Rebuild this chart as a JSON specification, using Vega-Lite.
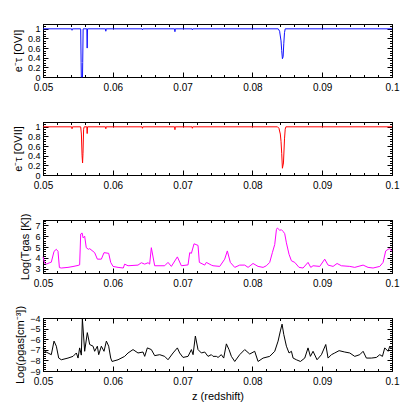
{
"$schema": "https://vega.github.io/schema/vega-lite/v6.json",
"padding": {"left": 12, "top": 23, "right": 5, "bottom": 5},
"background": "white",
"bounds": "flush",
"spacing": 45,
"config": {"view": {"stroke": null}, "axis": {"grid": false, "labelFont": "Liberation Sans", "titleFont": "Liberation Sans", "labelFontSize": 10, "titleFontSize": 11, "titleFontWeight": "normal", "labelColor": "black", "titleColor": "black", "domainColor": "black", "tickColor": "black", "domainWidth": 1, "tickWidth": 1, "labelFlush": false, "labelOverlap": false}, "axisY": {"labelFontSize": 9}},
"datasets": {
"ovi": [{"z":0.05,"v":1},{"z":0.0541,"v":1},{"z":0.05416,"v":0.97},{"z":0.05422,"v":1},{"z":0.0554,"v":1},{"z":0.05546,"v":0.3},{"z":0.05549,"v":0},{"z":0.05566,"v":0},{"z":0.05569,"v":0.3},{"z":0.05575,"v":1},{"z":0.05628,"v":1},{"z":0.05633,"v":0.6},{"z":0.05638,"v":1},{"z":0.05895,"v":1},{"z":0.059,"v":0.95},{"z":0.05905,"v":1},{"z":0.0642,"v":1},{"z":0.06425,"v":0.98},{"z":0.0643,"v":1},{"z":0.06885,"v":1},{"z":0.0689,"v":0.94},{"z":0.06895,"v":1},{"z":0.07135,"v":1},{"z":0.0714,"v":0.98},{"z":0.07145,"v":1},{"z":0.0837,"v":1},{"z":0.0839,"v":0.95},{"z":0.0841,"v":0.75},{"z":0.0842,"v":0.55},{"z":0.0843,"v":0.38},{"z":0.0844,"v":0.42},{"z":0.0845,"v":0.7},{"z":0.0846,"v":0.92},{"z":0.0847,"v":1},{"z":0.1,"v":1}],
"ovii": [{"z":0.05,"v":1},{"z":0.0541,"v":1},{"z":0.05416,"v":0.96},{"z":0.05422,"v":1},{"z":0.0554,"v":1},{"z":0.0555,"v":0.85},{"z":0.0556,"v":0.4},{"z":0.05567,"v":0.25},{"z":0.05573,"v":0.45},{"z":0.05582,"v":0.95},{"z":0.0559,"v":1},{"z":0.05628,"v":1},{"z":0.05633,"v":0.86},{"z":0.05638,"v":1},{"z":0.05895,"v":1},{"z":0.059,"v":0.96},{"z":0.05905,"v":1},{"z":0.0642,"v":1},{"z":0.06425,"v":0.97},{"z":0.0643,"v":1},{"z":0.06885,"v":1},{"z":0.0689,"v":0.94},{"z":0.06895,"v":1},{"z":0.07135,"v":1},{"z":0.0714,"v":0.97},{"z":0.07145,"v":1},{"z":0.0836,"v":1},{"z":0.0838,"v":0.97},{"z":0.084,"v":0.85},{"z":0.0841,"v":0.7},{"z":0.0842,"v":0.45},{"z":0.0843,"v":0.14},{"z":0.08445,"v":0.25},{"z":0.0846,"v":0.75},{"z":0.0847,"v":0.95},{"z":0.0848,"v":1},{"z":0.1,"v":1}],
"temp": [{"z":0.05,"v":4.1},{"z":0.05024,"v":3.5},{"z":0.05048,"v":3.42},{"z":0.05095,"v":3.55},{"z":0.05119,"v":3.6},{"z":0.05158,"v":4.6},{"z":0.05191,"v":4.79},{"z":0.05215,"v":4.6},{"z":0.05235,"v":3.1},{"z":0.05263,"v":3.06},{"z":0.05358,"v":3.12},{"z":0.0543,"v":3.2},{"z":0.05502,"v":3.3},{"z":0.05525,"v":3.35},{"z":0.0554,"v":6.2},{"z":0.0556,"v":6.3},{"z":0.05575,"v":5.85},{"z":0.05597,"v":6.0},{"z":0.0562,"v":4.94},{"z":0.0565,"v":4.79},{"z":0.05669,"v":4.85},{"z":0.0574,"v":4.48},{"z":0.05779,"v":3.88},{"z":0.05836,"v":3.88},{"z":0.05874,"v":4.48},{"z":0.05941,"v":4.42},{"z":0.0597,"v":3.58},{"z":0.06003,"v":3.21},{"z":0.06075,"v":3.12},{"z":0.0615,"v":3.06},{"z":0.0617,"v":3.42},{"z":0.06218,"v":3.27},{"z":0.06361,"v":3.33},{"z":0.06409,"v":3.55},{"z":0.06457,"v":3.42},{"z":0.06505,"v":3.55},{"z":0.06528,"v":3.42},{"z":0.06552,"v":4.94},{"z":0.066,"v":3.27},{"z":0.06743,"v":3.27},{"z":0.06791,"v":3.58},{"z":0.06839,"v":3.21},{"z":0.06925,"v":4.09},{"z":0.06982,"v":3.27},{"z":0.07078,"v":3.35},{"z":0.07102,"v":4.48},{"z":0.07126,"v":4.42},{"z":0.07164,"v":5.3},{"z":0.07221,"v":5.15},{"z":0.0724,"v":3.58},{"z":0.07317,"v":3.33},{"z":0.0734,"v":3.58},{"z":0.07412,"v":3.33},{"z":0.07436,"v":3.27},{"z":0.07532,"v":3.21},{"z":0.07603,"v":3.88},{"z":0.07641,"v":4.64},{"z":0.07684,"v":3.58},{"z":0.07747,"v":3.12},{"z":0.07818,"v":3.33},{"z":0.0789,"v":3.33},{"z":0.07938,"v":3.12},{"z":0.08009,"v":3.48},{"z":0.08081,"v":3.21},{"z":0.08153,"v":3.12},{"z":0.082,"v":3.27},{"z":0.08248,"v":3.58},{"z":0.08286,"v":4.48},{"z":0.0832,"v":5.24},{"z":0.08344,"v":6.61},{"z":0.08358,"v":6.76},{"z":0.08392,"v":6.55},{"z":0.08416,"v":6.6},{"z":0.08439,"v":6.45},{"z":0.08463,"v":6.24},{"z":0.08487,"v":5.39},{"z":0.08525,"v":4.33},{"z":0.08559,"v":3.73},{"z":0.08607,"v":3.58},{"z":0.08668,"v":3.12},{"z":0.08726,"v":3.06},{"z":0.08797,"v":3.58},{"z":0.08836,"v":3.12},{"z":0.08869,"v":3.27},{"z":0.08965,"v":3.21},{"z":0.09036,"v":3.88},{"z":0.09084,"v":3.33},{"z":0.09156,"v":3.21},{"z":0.09213,"v":3.48},{"z":0.09275,"v":3.27},{"z":0.09395,"v":3.21},{"z":0.09466,"v":3.12},{"z":0.09586,"v":3.33},{"z":0.09657,"v":3.12},{"z":0.09729,"v":3.06},{"z":0.09825,"v":3.21},{"z":0.09872,"v":3.58},{"z":0.0991,"v":4.64},{"z":0.09944,"v":4.79},{"z":0.09968,"v":4.85},{"z":0.09991,"v":4.64},{"z":0.1,"v":4.6}],
"dens": [{"z":0.05,"v":-6.82},{"z":0.05024,"v":-7.14},{"z":0.05072,"v":-7.3},{"z":0.05119,"v":-7.46},{"z":0.05158,"v":-6.18},{"z":0.05191,"v":-6.66},{"z":0.05225,"v":-7.78},{"z":0.05263,"v":-7.94},{"z":0.05358,"v":-7.78},{"z":0.0543,"v":-7.62},{"z":0.05478,"v":-7.3},{"z":0.05502,"v":-7.78},{"z":0.05525,"v":-6.82},{"z":0.05549,"v":-7.5},{"z":0.05564,"v":-4.05},{"z":0.05597,"v":-7.14},{"z":0.05635,"v":-5.38},{"z":0.05669,"v":-6.5},{"z":0.05717,"v":-6.66},{"z":0.0574,"v":-7.14},{"z":0.05779,"v":-6.66},{"z":0.05798,"v":-7.46},{"z":0.05836,"v":-6.66},{"z":0.05874,"v":-7.14},{"z":0.05908,"v":-6.18},{"z":0.05941,"v":-6.66},{"z":0.0597,"v":-7.78},{"z":0.05989,"v":-8.1},{"z":0.06075,"v":-7.94},{"z":0.0617,"v":-7.62},{"z":0.06218,"v":-7.3},{"z":0.0629,"v":-6.98},{"z":0.06361,"v":-7.3},{"z":0.06433,"v":-7.21},{"z":0.06457,"v":-7.62},{"z":0.06495,"v":-6.82},{"z":0.06552,"v":-6.98},{"z":0.066,"v":-7.55},{"z":0.06672,"v":-7.46},{"z":0.06743,"v":-7.62},{"z":0.06791,"v":-7.94},{"z":0.06863,"v":-7.3},{"z":0.06925,"v":-6.82},{"z":0.06958,"v":-7.3},{"z":0.07006,"v":-7.72},{"z":0.07078,"v":-7.62},{"z":0.07126,"v":-6.98},{"z":0.0715,"v":-7.46},{"z":0.07183,"v":-5.7},{"z":0.07221,"v":-6.98},{"z":0.07269,"v":-7.3},{"z":0.07317,"v":-7.21},{"z":0.07364,"v":-7.62},{"z":0.07412,"v":-7.46},{"z":0.07436,"v":-7.62},{"z":0.07484,"v":-7.62},{"z":0.07508,"v":-7.72},{"z":0.07555,"v":-7.46},{"z":0.07589,"v":-7.78},{"z":0.07627,"v":-6.44},{"z":0.07665,"v":-6.98},{"z":0.07699,"v":-7.62},{"z":0.07747,"v":-8.1},{"z":0.07818,"v":-7.46},{"z":0.0789,"v":-6.98},{"z":0.07962,"v":-7.4},{"z":0.08033,"v":-7.14},{"z":0.08081,"v":-8.1},{"z":0.08153,"v":-7.78},{"z":0.08248,"v":-7.62},{"z":0.0832,"v":-7.14},{"z":0.08368,"v":-6.18},{"z":0.08401,"v":-5.22},{"z":0.08425,"v":-4.58},{"z":0.08449,"v":-5.54},{"z":0.08487,"v":-6.66},{"z":0.08525,"v":-7.3},{"z":0.08559,"v":-7.14},{"z":0.08583,"v":-7.78},{"z":0.0863,"v":-7.94},{"z":0.08688,"v":-8.1},{"z":0.0875,"v":-7.78},{"z":0.08797,"v":-6.82},{"z":0.08831,"v":-7.62},{"z":0.08869,"v":-7.14},{"z":0.08926,"v":-7.94},{"z":0.08989,"v":-7.46},{"z":0.09051,"v":-6.5},{"z":0.09084,"v":-7.78},{"z":0.09132,"v":-7.46},{"z":0.0918,"v":-7.3},{"z":0.09242,"v":-7.08},{"z":0.09323,"v":-7.21},{"z":0.09395,"v":-7.3},{"z":0.09466,"v":-7.62},{"z":0.09538,"v":-7.46},{"z":0.09586,"v":-7.14},{"z":0.09633,"v":-7.78},{"z":0.09705,"v":-7.78},{"z":0.09777,"v":-7.72},{"z":0.09825,"v":-7.46},{"z":0.09863,"v":-7.62},{"z":0.09896,"v":-6.82},{"z":0.09944,"v":-7.14},{"z":0.09968,"v":-6.66},{"z":0.1,"v":-6.9}]
},
"vconcat": [
{"width": 349, "height": 53, "data": {"name": "ovi"},
 "layer": [
  {"mark": {"type": "line", "color": "#1010ff", "strokeWidth": 1}, "encoding": {"x": {"field": "z", "type": "quantitative", "scale": {"domain": [0.05, 0.1], "nice": false, "zero": false}, "axis": {"orient": "bottom", "tickCount": 5, "format": "~g", "ticks": false, "labelPadding": 5, "title": null}}, "y": {"field": "v", "type": "quantitative", "scale": {"domain": [0, 1.1], "nice": false}, "axis": {"orient": "left", "tickCount": 5, "format": "~g", "ticks": false, "labelPadding": 3, "title": "e⁻τ [OVI]", "titlePadding": 4}}}},
  {"mark": {"type": "line", "opacity": 0}, "encoding": {"x": {"field": "z", "type": "quantitative", "axis": {"orient": "bottom", "tickCount": 5, "tickSize": -5, "labels": false, "title": null}}, "y": {"field": "v", "type": "quantitative", "axis": {"orient": "left", "tickCount": 5, "tickSize": -5, "labels": false, "title": null}}}},
  {"mark": {"type": "line", "opacity": 0}, "encoding": {"x": {"field": "z", "type": "quantitative", "axis": {"orient": "top", "tickCount": 5, "tickSize": -5, "labels": false, "title": null}}, "y": {"field": "v", "type": "quantitative", "axis": {"orient": "right", "tickCount": 5, "tickSize": -5, "labels": false, "title": null}}}},
  {"mark": {"type": "line", "opacity": 0}, "encoding": {"x": {"field": "z", "type": "quantitative", "axis": {"orient": "bottom", "tickCount": 25, "tickSize": -2.5, "labels": false, "title": null}}, "y": {"field": "v", "type": "quantitative", "axis": {"orient": "left", "tickCount": 22, "tickSize": -2.5, "labels": false, "title": null}}}},
  {"mark": {"type": "line", "opacity": 0}, "encoding": {"x": {"field": "z", "type": "quantitative", "axis": {"orient": "top", "tickCount": 25, "tickSize": -2.5, "labels": false, "title": null}}, "y": {"field": "v", "type": "quantitative", "axis": {"orient": "right", "tickCount": 22, "tickSize": -2.5, "labels": false, "title": null}}}}
 ],
 "resolve": {"axis": {"x": "independent", "y": "independent"}}},
{"width": 349, "height": 53, "data": {"name": "ovii"},
 "layer": [
  {"mark": {"type": "line", "color": "#ff0000", "strokeWidth": 1}, "encoding": {"x": {"field": "z", "type": "quantitative", "scale": {"domain": [0.05, 0.1], "nice": false, "zero": false}, "axis": {"orient": "bottom", "tickCount": 5, "format": "~g", "ticks": false, "labelPadding": 5, "title": null}}, "y": {"field": "v", "type": "quantitative", "scale": {"domain": [0, 1.1], "nice": false}, "axis": {"orient": "left", "tickCount": 5, "format": "~g", "ticks": false, "labelPadding": 3, "title": "e⁻τ [OVII]", "titlePadding": 4}}}},
  {"mark": {"type": "line", "opacity": 0}, "encoding": {"x": {"field": "z", "type": "quantitative", "axis": {"orient": "bottom", "tickCount": 5, "tickSize": -5, "labels": false, "title": null}}, "y": {"field": "v", "type": "quantitative", "axis": {"orient": "left", "tickCount": 5, "tickSize": -5, "labels": false, "title": null}}}},
  {"mark": {"type": "line", "opacity": 0}, "encoding": {"x": {"field": "z", "type": "quantitative", "axis": {"orient": "top", "tickCount": 5, "tickSize": -5, "labels": false, "title": null}}, "y": {"field": "v", "type": "quantitative", "axis": {"orient": "right", "tickCount": 5, "tickSize": -5, "labels": false, "title": null}}}},
  {"mark": {"type": "line", "opacity": 0}, "encoding": {"x": {"field": "z", "type": "quantitative", "axis": {"orient": "bottom", "tickCount": 25, "tickSize": -2.5, "labels": false, "title": null}}, "y": {"field": "v", "type": "quantitative", "axis": {"orient": "left", "tickCount": 22, "tickSize": -2.5, "labels": false, "title": null}}}},
  {"mark": {"type": "line", "opacity": 0}, "encoding": {"x": {"field": "z", "type": "quantitative", "axis": {"orient": "top", "tickCount": 25, "tickSize": -2.5, "labels": false, "title": null}}, "y": {"field": "v", "type": "quantitative", "axis": {"orient": "right", "tickCount": 22, "tickSize": -2.5, "labels": false, "title": null}}}}
 ],
 "resolve": {"axis": {"x": "independent", "y": "independent"}}},
{"width": 349, "height": 53, "data": {"name": "temp"},
 "layer": [
  {"mark": {"type": "line", "color": "#ff00ff", "strokeWidth": 1}, "encoding": {"x": {"field": "z", "type": "quantitative", "scale": {"domain": [0.05, 0.1], "nice": false, "zero": false}, "axis": {"orient": "bottom", "tickCount": 5, "format": "~g", "ticks": false, "labelPadding": 5, "title": null}}, "y": {"field": "v", "type": "quantitative", "scale": {"domain": [2.6, 7.5], "nice": false, "zero": false}, "axis": {"orient": "left", "tickCount": 5, "format": "~g", "ticks": false, "labelPadding": 3, "title": "Log(Tgas [K])", "titlePadding": 4}}}},
  {"mark": {"type": "line", "opacity": 0}, "encoding": {"x": {"field": "z", "type": "quantitative", "axis": {"orient": "bottom", "tickCount": 5, "tickSize": -5, "labels": false, "title": null}}, "y": {"field": "v", "type": "quantitative", "axis": {"orient": "left", "tickCount": 5, "tickSize": -5, "labels": false, "title": null}}}},
  {"mark": {"type": "line", "opacity": 0}, "encoding": {"x": {"field": "z", "type": "quantitative", "axis": {"orient": "top", "tickCount": 5, "tickSize": -5, "labels": false, "title": null}}, "y": {"field": "v", "type": "quantitative", "axis": {"orient": "right", "tickCount": 5, "tickSize": -5, "labels": false, "title": null}}}},
  {"mark": {"type": "line", "opacity": 0}, "encoding": {"x": {"field": "z", "type": "quantitative", "axis": {"orient": "bottom", "tickCount": 25, "tickSize": -2.5, "labels": false, "title": null}}, "y": {"field": "v", "type": "quantitative", "axis": {"orient": "left", "tickCount": 25, "tickSize": -2.5, "labels": false, "title": null}}}},
  {"mark": {"type": "line", "opacity": 0}, "encoding": {"x": {"field": "z", "type": "quantitative", "axis": {"orient": "top", "tickCount": 25, "tickSize": -2.5, "labels": false, "title": null}}, "y": {"field": "v", "type": "quantitative", "axis": {"orient": "right", "tickCount": 25, "tickSize": -2.5, "labels": false, "title": null}}}}
 ],
 "resolve": {"axis": {"x": "independent", "y": "independent"}}},
{"width": 349, "height": 53, "data": {"name": "dens"},
 "layer": [
  {"mark": {"type": "line", "color": "black", "strokeWidth": 1}, "encoding": {"x": {"field": "z", "type": "quantitative", "scale": {"domain": [0.05, 0.1], "nice": false, "zero": false}, "axis": {"orient": "bottom", "tickCount": 5, "format": "~g", "ticks": false, "labelPadding": 5, "title": "z  (redshift)", "titlePadding": 4}}, "y": {"field": "v", "type": "quantitative", "scale": {"domain": [-9, -4], "nice": false, "zero": false}, "axis": {"orient": "left", "tickCount": 5, "format": "~g", "ticks": false, "labelPadding": 3, "title": "Log(ρgas[cm⁻³])", "titlePadding": 4}}}},
  {"mark": {"type": "line", "opacity": 0}, "encoding": {"x": {"field": "z", "type": "quantitative", "axis": {"orient": "bottom", "tickCount": 5, "tickSize": -5, "labels": false, "title": null}}, "y": {"field": "v", "type": "quantitative", "axis": {"orient": "left", "tickCount": 5, "tickSize": -5, "labels": false, "title": null}}}},
  {"mark": {"type": "line", "opacity": 0}, "encoding": {"x": {"field": "z", "type": "quantitative", "axis": {"orient": "top", "tickCount": 5, "tickSize": -5, "labels": false, "title": null}}, "y": {"field": "v", "type": "quantitative", "axis": {"orient": "right", "tickCount": 5, "tickSize": -5, "labels": false, "title": null}}}},
  {"mark": {"type": "line", "opacity": 0}, "encoding": {"x": {"field": "z", "type": "quantitative", "axis": {"orient": "bottom", "tickCount": 25, "tickSize": -2.5, "labels": false, "title": null}}, "y": {"field": "v", "type": "quantitative", "axis": {"orient": "left", "tickCount": 25, "tickSize": -2.5, "labels": false, "title": null}}}},
  {"mark": {"type": "line", "opacity": 0}, "encoding": {"x": {"field": "z", "type": "quantitative", "axis": {"orient": "top", "tickCount": 25, "tickSize": -2.5, "labels": false, "title": null}}, "y": {"field": "v", "type": "quantitative", "axis": {"orient": "right", "tickCount": 25, "tickSize": -2.5, "labels": false, "title": null}}}}
 ],
 "resolve": {"axis": {"x": "independent", "y": "independent"}}}
]
}
